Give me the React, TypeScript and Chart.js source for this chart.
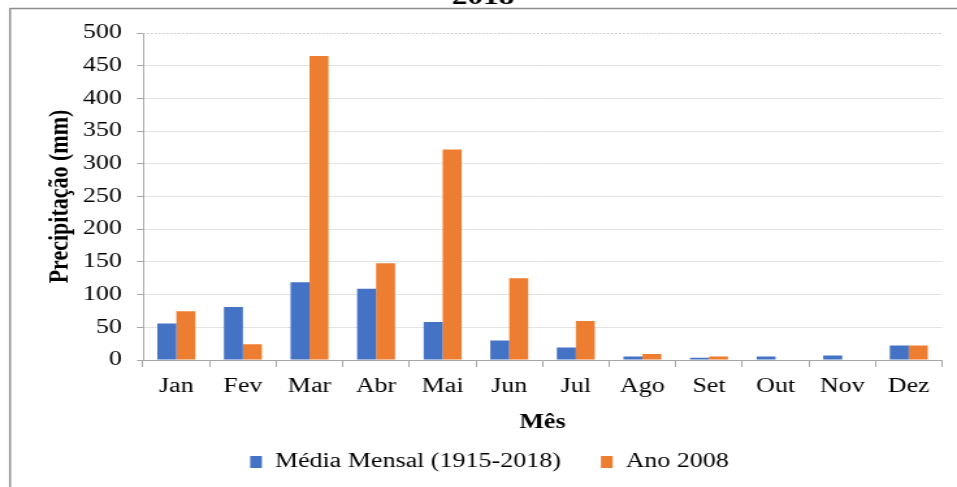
import { useEffect, useRef } from 'react';
import { Chart, registerables } from 'chart.js';

Chart.register(...registerables);

const months = ['Jan', 'Fev', 'Mar', 'Abr', 'Mai', 'Jun', 'Jul', 'Ago', 'Set', 'Out', 'Nov', 'Dez'];
const mediaMensal = [56, 81, 119, 109, 58, 30, 19, 5.5, 3.5, 5.5, 7, 22];
const ano2008 = [74.5, 24, 465, 148, 322, 125, 59.5, 9, 5.5, 0, 0, 22];
const seriesLabels = ['Média Mensal (1915-2018)', 'Ano 2008'];
const yMin = 0;
const yMax = 500;
const yStep = 50;
const titleTail = '2018';
const xTitle = 'Mês';
const yTitle = 'Precipitação (mm)';

const SERIF = "'Liberation Serif', 'Times New Roman', serif";
Chart.defaults.font.family = SERIF;
Chart.defaults.color = '#000';

const OUT_W = 957;
const OUT_H = 487;
const IN_W = 736; // canvas drawn narrower, then stretched horizontally like the reference
const S = OUT_W / IN_W;

const framePlugin = {
  id: 'frameDeco',
  beforeDraw(chart: any) {
    const ctx = chart.ctx;
    ctx.save();
    ctx.strokeStyle = '#8c8c8c';
    ctx.lineWidth = 1.5;
    ctx.beginPath();
    ctx.moveTo(10 / S, OUT_H);
    ctx.lineTo(10 / S, 8.6);
    ctx.lineTo(IN_W, 8.6);
    ctx.stroke();
    ctx.fillStyle = '#000';
    ctx.font = `bold 24px ${SERIF}`;
    ctx.textAlign = 'center';
    ctx.textBaseline = 'alphabetic';
    ctx.fillText(titleTail, 483 / S, 4);
    ctx.restore();
  },
  beforeDatasetsDraw(chart: any) {
    const ctx = chart.ctx;
    const ys = chart.scales.y;
    const yp = Math.round(ys.getPixelForValue(yMax)) + 0.5;
    ctx.save();
    ctx.strokeStyle = '#c8c8c8';
    ctx.lineWidth = 1;
    ctx.setLineDash([1.5, 1.5]);
    ctx.beginPath();
    ctx.moveTo(chart.chartArea.left, yp);
    ctx.lineTo(chart.chartArea.right, yp);
    ctx.stroke();
    ctx.restore();
  },
};

export default function App() {
  const ref = useRef<HTMLCanvasElement | null>(null);

  useEffect(() => {
    if (!ref.current) return;
    const chart = new Chart(ref.current, {
      type: 'bar',
      data: {
        labels: months,
        datasets: [
          { label: seriesLabels[0], data: mediaMensal, backgroundColor: '#4472C4', borderWidth: 0 },
          { label: seriesLabels[1], data: ano2008, backgroundColor: '#ED7D31', borderWidth: 0 },
        ],
      },
      options: {
        animation: false,
        responsive: false,
        devicePixelRatio: 1,
        layout: { padding: { left: 28.5, right: 11.5, top: 33, bottom: 5.8 } },
        datasets: { bar: { categoryPercentage: 0.57, barPercentage: 1.0 } },
        plugins: {
          tooltip: { enabled: false },
          title: { display: false },
          legend: {
            position: 'bottom',
            align: 'center',
            maxHeight: 60,
            labels: {
              padding: 30.8,
              boxWidth: 9,
              boxHeight: 12,
              color: '#000',
              font: { family: SERIF, size: 20 },
            },
          },
        },
        scales: {
          x: {
            afterFit: (s: any) => { s.height = 61.2; },
            grid: { drawOnChartArea: false, offset: true, tickLength: 7, color: '#a6a6a6', tickColor: '#a6a6a6' },
            border: { color: '#a6a6a6' },
            ticks: { color: '#000', padding: 8, font: { family: SERIF, size: 20 }, maxRotation: 0 },
            title: { display: true, text: xTitle, color: '#000', font: { family: SERIF, size: 20, weight: 'bold' }, padding: { top: 0, bottom: -14 } },
          },
          y: {
            min: yMin,
            max: yMax,
            afterFit: (s: any) => { s.width = 110 - 28.5; },
            grid: {
              color: (c: any) => (c.tick && c.tick.value === yMax ? 'rgba(0,0,0,0)' : '#e3e3e3'),
              tickColor: '#a6a6a6',
              tickLength: 4.6,
            },
            border: { color: '#a6a6a6' },
            ticks: { stepSize: yStep, color: '#000', padding: 11.6, font: { family: SERIF, size: 20 } },
            title: { display: true, text: yTitle, color: '#000', font: { family: SERIF, size: 22, weight: 'bold' }, padding: { top: 4.4, bottom: 0 } },
          },
        },
      } as any,
      plugins: [framePlugin],
    });
    return () => chart.destroy();
  }, []);

  return (
    <div style={{ position: 'fixed', left: 0, top: 0, width: OUT_W, height: OUT_H, background: '#fff' }}>
      <canvas ref={ref} width={IN_W} height={OUT_H} style={{ width: `${OUT_W}px`, height: `${OUT_H}px`, display: 'block' }} />
    </div>
  );
}
